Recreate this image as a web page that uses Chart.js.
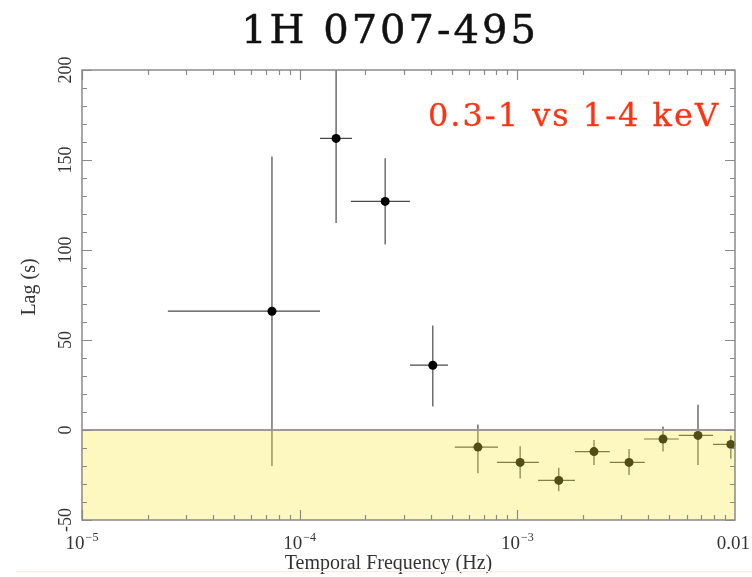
<!DOCTYPE html>
<html>
<head>
<meta charset="utf-8">
<script src="https://cdn.jsdelivr.net/npm/chart.js@4.4.1/dist/chart.umd.min.js"></script>
<style>
  html, body { margin: 0; padding: 0; background: #fff; }
</style>
</head>
<body>
<canvas id="lagChart" width="752" height="577"></canvas>
<script>
// Frequency bins (Hz): centre, lower and upper bin edge
const freq   = [7.46e-5, 1.47e-4, 2.47e-4, 4.09e-4, 6.59e-4, 1.03e-3, 1.55e-3, 2.25e-3, 3.26e-3, 4.67e-3, 6.76e-3, 9.57e-3];
const freqLo = [2.48e-5, 1.24e-4, 1.72e-4, 3.21e-4, 5.16e-4, 8.05e-4, 1.245e-3, 1.84e-3, 2.66e-3, 3.82e-3, 5.52e-3, 7.92e-3];
const freqHi = [1.24e-4, 1.74e-4, 3.21e-4, 4.80e-4, 8.15e-4, 1.256e-3, 1.84e-3, 2.66e-3, 3.85e-3, 5.52e-3, 7.92e-3, 1.18e-2];

// Lag (s) with upper / lower error
const lag   = [66, 162, 127, 36, -9.5, -18, -28, -12, -18, -5, -3, -8];
const lagHi = [152, 209, 151, 58, 3, -9, -21, -5.5, -10.5, 2, 14, -3];
const lagLo = [-20, 115, 103, 13, -24, -27, -34, -19.5, -25, -12, -19.5, -16];

const yTicks = [-50, 0, 50, 100, 150, 200];
const xTicks = [1e-5, 1e-4, 1e-3, 1e-2];
const xTickLabels = [["10", "−5"], ["10", "−4"], ["10", "−3"], ["0.01", ""]];

const titleText = "1H 0707-495";
const bandText = "0.3-1 vs 1-4 keV";

const serif = "'Liberation Serif', 'Times New Roman', serif";
const slab = "'DejaVu Serif', serif";

// draws text a little heavier by stroking it in its own colour
function heavyText(ctx, text, x, y, weight) {
  ctx.lineWidth = weight;
  ctx.strokeStyle = ctx.fillStyle;
  ctx.lineJoin = "round";
  ctx.strokeText(text, x, y);
  ctx.fillText(text, x, y);
}

const lagDecor = {
  id: "lagDecor",
  beforeDatasetsDraw(chart) {
    const { ctx, chartArea: a, scales: { x, y } } = chart;
    ctx.save();
    ctx.beginPath();
    ctx.rect(a.left, a.top, a.right - a.left, a.bottom - a.top);
    ctx.clip();
    ctx.strokeStyle = "#4a4a4a";
    ctx.lineWidth = 1.2;
    freq.forEach((f, i) => {
      const px = x.getPixelForValue(f);
      const py = y.getPixelForValue(lag[i]);
      ctx.beginPath();
      ctx.moveTo(x.getPixelForValue(freqLo[i]), py);
      ctx.lineTo(x.getPixelForValue(freqHi[i]), py);
      ctx.moveTo(px, y.getPixelForValue(lagHi[i]));
      ctx.lineTo(px, y.getPixelForValue(lagLo[i]));
      ctx.stroke();
    });
    ctx.restore();
  },
  afterDatasetsDraw(chart) {
    const { ctx, chartArea: a, scales: { y } } = chart;
    const y0 = y.getPixelForValue(0);
    ctx.save();
    // negative-lag band
    ctx.fillStyle = "rgba(250, 234, 60, 0.33)";
    ctx.fillRect(a.left, y0, a.right - a.left, a.bottom - y0);
    ctx.strokeStyle = "#9a9a9a";
    ctx.lineWidth = 2;
    ctx.beginPath();
    ctx.moveTo(a.left, y0);
    ctx.lineTo(a.right, y0);
    ctx.stroke();
    ctx.restore();
  },
  afterDraw(chart) {
    const { ctx, chartArea: a, scales: { x, y } } = chart;
    ctx.save();

    // frame
    ctx.strokeStyle = "#8a8a8a";
    ctx.lineWidth = 1.5;
    ctx.strokeRect(a.left, a.top, a.right - a.left, a.bottom - a.top);

    // inward ticks, log x axis
    ctx.lineWidth = 1.2;
    ctx.beginPath();
    for (let d = -5; d < -2; d++) {
      for (let m = 1; m <= 9; m++) {
        const v = m * Math.pow(10, d);
        const px = Math.round(x.getPixelForValue(v)) + 0.5;
        const len = m === 1 ? 10 : 5;
        ctx.moveTo(px, a.bottom); ctx.lineTo(px, a.bottom - len);
        ctx.moveTo(px, a.top); ctx.lineTo(px, a.top + len);
      }
    }
    // inward ticks, linear y axis
    for (let v = -50; v <= 200; v += 10) {
      const py = Math.round(y.getPixelForValue(v)) + 0.5;
      const len = v % 50 === 0 ? 10 : 5;
      ctx.moveTo(a.left, py); ctx.lineTo(a.left + len, py);
      ctx.moveTo(a.right, py); ctx.lineTo(a.right - len, py);
    }
    ctx.stroke();

    // y tick labels, rotated
    ctx.fillStyle = "#333";
    ctx.font = "18px " + serif;
    ctx.textAlign = "center";
    ctx.textBaseline = "middle";
    yTicks.forEach((v) => {
      ctx.save();
      ctx.translate(a.left - 16, y.getPixelForValue(v));
      ctx.rotate(-Math.PI / 2);
      ctx.fillText(v.toString(), 0, 0);
      ctx.restore();
    });

    // x tick labels with superscript exponents
    ctx.textBaseline = "alphabetic";
    ctx.textAlign = "left";
    xTicks.forEach((v, i) => {
      const [base, exp] = xTickLabels[i];
      ctx.font = "19px " + serif;
      const wb = ctx.measureText(base).width;
      ctx.font = "12px " + serif;
      const we = exp ? ctx.measureText(exp).width + 1 : 0;
      let left = x.getPixelForValue(v) - (wb + we) / 2;
      left = Math.min(left, chart.width - 2 - wb - we);
      ctx.font = "19px " + serif;
      ctx.fillText(base, left, 549);
      if (exp) {
        ctx.font = "12px " + serif;
        ctx.fillText(exp, left + wb + 1, 541);
      }
    });

    // axis titles
    ctx.font = "20px " + serif;
    ctx.textAlign = "center";
    ctx.fillText("Temporal Frequency (Hz)", (a.left + a.right) / 2 - 20, 569);
    ctx.save();
    ctx.translate(30, 287);
    ctx.rotate(-Math.PI / 2);
    ctx.textBaseline = "middle";
    ctx.fillText("Lag (s)", 0, 0);
    ctx.restore();

    // chart title and energy band label
    ctx.fillStyle = "#111";
    ctx.font = "40px " + slab;
    ctx.letterSpacing = "3px";
    ctx.textAlign = "center";
    heavyText(ctx, titleText, 390, 43, 0.5);
    ctx.fillStyle = "#ff3311";
    ctx.font = "32px " + slab;
    ctx.letterSpacing = "2px";
    ctx.textAlign = "right";
    heavyText(ctx, bandText, 720, 126, 0.3);
    ctx.letterSpacing = "0px";

    // thin rule under the figure
    ctx.strokeStyle = "#fbecd2";
    ctx.lineWidth = 1;
    ctx.beginPath();
    ctx.moveTo(16, 571.5);
    ctx.lineTo(chart.width, 571.5);
    ctx.stroke();

    ctx.restore();
  }
};

new Chart(document.getElementById("lagChart").getContext("2d"), {
  type: "scatter",
  data: {
    datasets: [{
      label: "Lag",
      data: freq.map((f, i) => ({ x: f, y: lag[i] })),
      backgroundColor: "#000",
      borderWidth: 0,
      pointRadius: 4.5,
      pointHoverRadius: 4.5,
      clip: false
    }]
  },
  options: {
    responsive: false,
    animation: false,
    devicePixelRatio: 1,
    layout: { padding: { left: 82, right: 17, top: 70, bottom: 57 } },
    plugins: {
      legend: { display: false },
      title: { display: false },
      tooltip: { enabled: false }
    },
    scales: {
      x: { type: "logarithmic", min: 1e-5, max: 1e-2, display: false },
      y: { type: "linear", min: -50, max: 200, display: false }
    }
  },
  plugins: [lagDecor]
});
</script>
</body>
</html>
